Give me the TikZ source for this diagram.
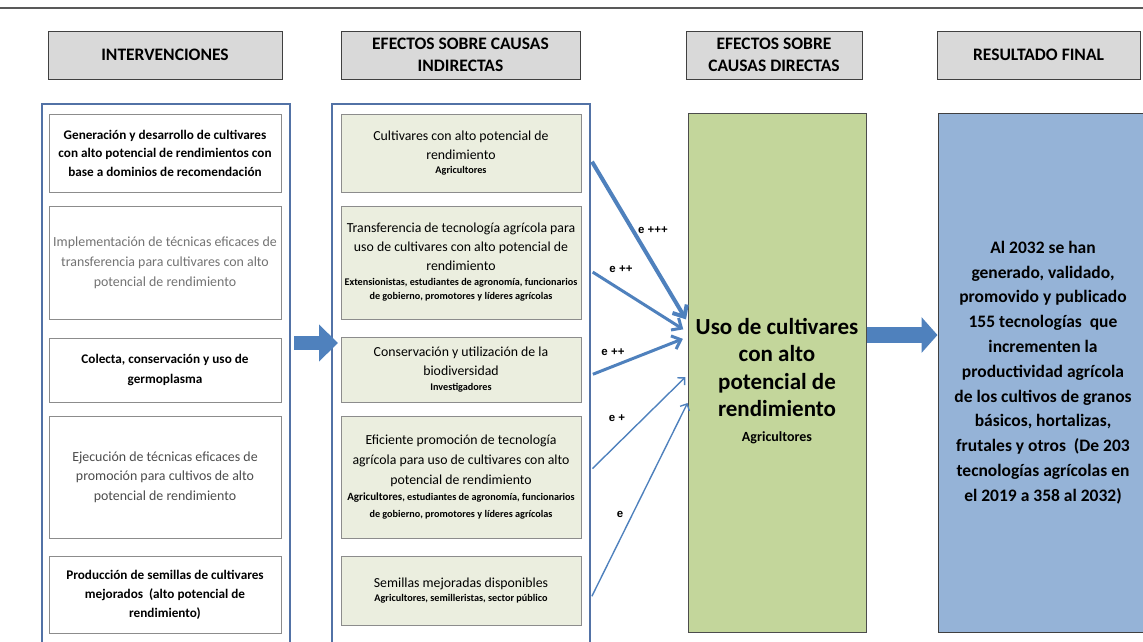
\documentclass[tikz,border=0pt]{standalone}
\usepackage{fontspec}
\setmainfont{Carlito}
\newfontfamily\lblfont{Liberation Sans}
\usetikzlibrary{arrows.meta}

\definecolor{hdrgray}{HTML}{D9D9D9}
\definecolor{linegray}{HTML}{595959}
\definecolor{contblue}{HTML}{5272A6}
\definecolor{boxgray}{HTML}{8C8C8C}
\definecolor{paleolive}{HTML}{EBEEDF}
\definecolor{olive}{HTML}{C3D69B}
\definecolor{skyblue}{HTML}{95B3D7}
\definecolor{arrowblue}{HTML}{4F81BD}
\newcommand\whofont{\fontsize{10.2}{14.5}\selectfont\bfseries}

\begin{document}
\begin{tikzpicture}
		[x=1pt,y=-1pt,
		hdr/.style= {draw=black!75,fill=hdrgray,line width=1pt,align=flush center,inner sep=0pt,minimum height=48pt,font=\fontsize{17.5}{22}\selectfont\bfseries},
		cont/.style= {draw=contblue,line width=2pt,inner sep=0pt,minimum width=248pt,minimum height=600pt},
		ibox/.style= {draw=boxgray,fill=white,line width=0.8pt,minimum width=232pt,text width=230pt,align=flush center,inner sep=0pt,font=\fontsize{13}{19}\selectfont},
		cbox/.style= {draw=boxgray,fill=paleolive,line width=0.8pt,minimum width=240pt,text width=240pt,align=flush center,inner sep=0pt,font=\fontsize{13.8}{19}\selectfont},
		fat/.style= {draw=arrowblue,line width=14pt},
		thin/.style= {draw=arrowblue,-{Straight Barb[length=3pt 1.6,width=7pt 2.4]}},
		lbl/.style= {font=\fontsize{11.5}{13}\lblfont\bfseries,inner sep=1pt}]

		\useasboundingbox (0,0) rectangle (1143,641);
		\draw[linegray,line width=1.2pt] (0,8) -- (1143,8);

		\node[hdr,minimum width=234pt] (h1) at (165,55) {INTERVENCIONES};
		\node[hdr,minimum width=239pt] (h2) at (460.5,55) {EFECTOS SOBRE CAUSAS\\INDIRECTAS};
		\node[hdr,minimum width=176pt] (h3) at (774,55) {EFECTOS SOBRE\\CAUSAS DIRECTAS};
		\node[hdr,minimum width=203pt] (h4) at (1038.5,55) {RESULTADO FINAL};

		\node[cont] (lc) at (166,404) {};
		\node[cont,minimum width=258pt] (mc) at (461,404) {};

		\node[ibox,minimum height=78pt,font=\fontsize{13.2}{18.5}\selectfont\bfseries] (i1) at (165,153)
			{Generación y desarrollo de cultivares\\ con alto potencial de rendimientos con\\ base a dominios de recomendación};
		\node[ibox,minimum height=113pt,text=black!55,font=\fontsize{13.9}{20}\selectfont] (i2) at (165,262.5)
			{Implementación de técnicas eficaces de\\ transferencia para cultivares con alto\\ potencial de rendimiento};
		\node[ibox,minimum height=64pt,font=\fontsize{13.2}{20}\selectfont\bfseries] (i3) at (165,370)
			{Colecta, conservación y uso de\\ germoplasma};
		\node[ibox,minimum height=122pt,text=black!70,font=\fontsize{13.9}{19.5}\selectfont] (i4) at (165,477)
			{Ejecución de técnicas eficaces de\\ promoción para cultivos de alto\\ potencial de rendimiento};
		\node[ibox,minimum height=77pt,font=\fontsize{13.2}{19}\selectfont\bfseries] (i5) at (165,594.5)
			{Producción de semillas de cultivares\\ mejorados\ \ (alto potencial de\\ rendimiento)};

		\node[cbox,minimum height=78pt] (c1) at (461,153)
			{Cultivares con alto potencial de\\ rendimiento\par{\whofont Agricultores\par}};
		\node[cbox,minimum height=113pt] (c2) at (461,262.5)
			{Transferencia de tecnología agrícola para\\ uso de cultivares con alto potencial de\\ rendimiento\par{\whofont Extensionistas, estudiantes de agronomía, funcionarios\\ de gobierno, promotores y líderes agrícolas\par}};
		\node[cbox,minimum height=65pt] (c3) at (461,369.5)
			{Conservación y utilización de la\\ biodiversidad\par{\whofont Investigadores\par}};
		\node[cbox,minimum height=122pt,font=\fontsize{13.8}{20}\selectfont] (c4) at (461,477)
			{Eficiente promoción de tecnología\\ agrícola para uso de cultivares con alto\\ potencial de rendimiento\par{\fontsize{10.2}{16.5}\selectfont\bfseries{\fontsize{11}{14}\selectfont Agricultores}, estudiantes de agronomía, funcionarios\\ de gobierno, promotores y líderes agrícolas\par}};
		\node[cbox,minimum height=69pt] (c5) at (461,590.5)
			{Semillas mejoradas disponibles\par{\whofont Agricultores, semilleristas, sector público\par}};

		\node[draw=black!70,fill=olive,line width=1pt,minimum width=178pt,minimum height=519pt,text width=178pt,align=flush center,inner sep=0pt,
			font=\fontsize{23}{27.5}\selectfont\bfseries] (g) at (777,372.5)
			{\rule{0pt}{33pt}Uso de cultivares\\ con alto\\ potencial de\\ rendimiento\par{\fontsize{14}{25}\selectfont Agricultores\par}};
		\node[draw=black!75,fill=skyblue,line width=1pt,minimum width=210pt,minimum height=519pt,text width=210pt,align=flush center,inner sep=0pt,
			font=\fontsize{17.5}{24.8}\selectfont\bfseries] (r) at (1043,372.5)
			{Al 2032 se han\\ generado, validado,\\ promovido y publicado\\ 155 tecnologías\ \ que\\ incrementen la\\ productividad agrícola\\ de los cultivos de granos\\ básicos, hortalizas,\\ frutales y otros\ \ (De 203\\ tecnologías agrícolas en\\ el 2019 a 358 al 2032)};

		\draw[fat,-{Triangle[length=19pt,width=36pt]},shorten <=3pt,shorten >=-7pt] (lc.east |- 0,343) -- (mc.west |- 0,343);
		\draw[fat,line width=16pt,-{Triangle[length=16pt,width=35pt]}] (g.east |- 0,335) -- (r.west |- 0,335);

		\draw[thin,line width=4pt,shorten <=2pt,shorten >=3pt] (mc.east |- 0,160) -- (g.west |- 0,322);
		\draw[thin,line width=3pt,shorten <=2pt,shorten >=5pt] (mc.east |- 0,271) -- (g.west |- 0,332);
		\draw[thin,line width=3pt,shorten <=2pt,shorten >=5pt] (mc.east |- 0,375) -- (g.west |- 0,337);
		\draw[thin,line width=1.4pt,shorten <=2pt,shorten >=3pt] (mc.east |- 0,470) -- (g.west |- 0,375);
		\draw[thin,line width=1.4pt,shorten <=2pt] (mc.east |- 0,598) -- (g.west |- 0,403);

		\node[lbl] (l1) at (653,230) {e +++};
		\node[lbl] (l2) at (621,269) {e ++};
		\node[lbl] (l3) at (613,352) {e ++};
		\node[lbl] (l4) at (617,418) {e +};
		\node[lbl] (l5) at (620,514) {e};

	\end{tikzpicture}
\end{document}
